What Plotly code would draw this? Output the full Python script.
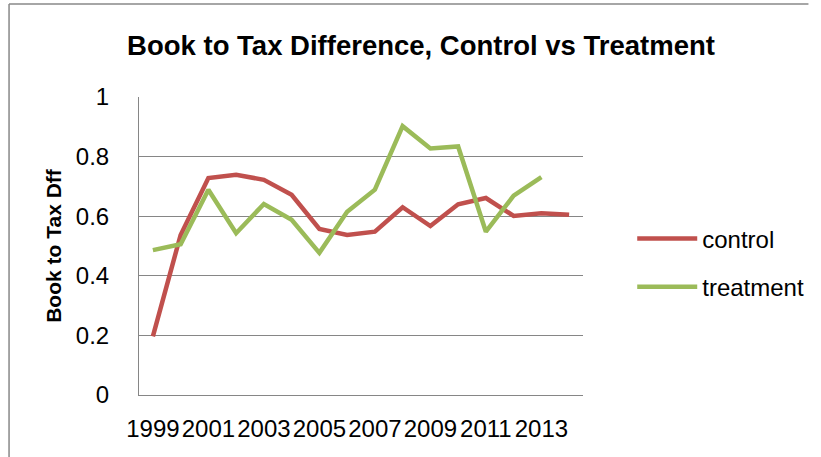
import plotly.graph_objects as go

years = list(range(1999, 2015))
control = [0.197, 0.537, 0.728, 0.739, 0.722, 0.672, 0.557, 0.537,
           0.548, 0.630, 0.567, 0.640, 0.661, 0.601, 0.610, 0.605]
treatment = [0.486, 0.506, 0.689, 0.543, 0.641, 0.588, 0.477, 0.615,
             0.689, 0.902, 0.827, 0.834, 0.548, 0.669, 0.731, None]
tick_years = [1999, 2001, 2003, 2005, 2007, 2009, 2011, 2013]
y_ticks = [0, 0.2, 0.4, 0.6, 0.8, 1]
y_tick_text = ["0", "0.2", "0.4", "0.6", "0.8", "1"]

FONT = "Liberation Sans"
W, H = 821, 457
L, R, T, B = 139, 231, 97, 62
pw = W - L - R
ph = H - T - B

fig = go.Figure()
fig.add_trace(go.Scatter(x=years, y=control, name="control", mode="lines",
                         legendgroup="a",
                         line=dict(color="#C0504D", width=4.5)))
fig.add_trace(go.Scatter(x=years, y=treatment, name="treatment", mode="lines",
                         legendgroup="b",
                         line=dict(color="#9BBB59", width=4.5)))

border = dict(color="#888888", width=1.5)
fig.update_layout(
    width=W, height=H,
    margin=dict(l=L, r=R, t=T, b=B, pad=0),
    paper_bgcolor="white", plot_bgcolor="white",
    font=dict(family=FONT, color="black"),
    title=dict(text="<b>Book to Tax Difference, Control vs Treatment</b>",
               x=421 / W, xanchor="center", y=1 - 45 / H, yanchor="middle",
               font=dict(size=27.5, family=FONT, color="black")),
    xaxis=dict(range=[1998.5, 2014.5], tickmode="array", tickvals=tick_years,
               ticktext=[str(y) for y in tick_years], showgrid=False,
               showline=True, linecolor="#868686", linewidth=1,
               ticks="", tickfont=dict(size=24, family=FONT), ticklabelstandoff=12,
               zeroline=False),
    yaxis=dict(range=[0, 1], tickmode="array", tickvals=y_ticks, ticktext=y_tick_text,
               showgrid=True, gridcolor="#868686", gridwidth=1,
               showline=True, linecolor="#868686", linewidth=1,
               ticks="", tickfont=dict(size=24, family=FONT), ticklabelstandoff=24,
               zeroline=False,
               title=dict(text="<b>Book to Tax Dff</b>", font=dict(size=21, family=FONT),
                          standoff=8)),
    legend=dict(x=(640 - L) / pw, y=(H - B - 263) / ph, xanchor="left", yanchor="middle",
                font=dict(size=24, family=FONT), traceorder="grouped",
                tracegroupgap=14, itemwidth=60,
                bgcolor="rgba(0,0,0,0)"),
    shapes=[
        dict(type="line", xref="paper", yref="paper",
             x0=(7 - L) / pw, x1=(7 - L) / pw,
             y0=(H - B - 457) / ph, y1=(H - B - 4) / ph, line=border, layer="below"),
        dict(type="line", xref="paper", yref="paper",
             x0=(7 - L) / pw, x1=(819 - L) / pw,
             y0=(H - B - 4) / ph, y1=(H - B - 4) / ph, line=border, layer="below"),
    ],
)

fig.write_html("out.html", config={"displayModeBar": False})
